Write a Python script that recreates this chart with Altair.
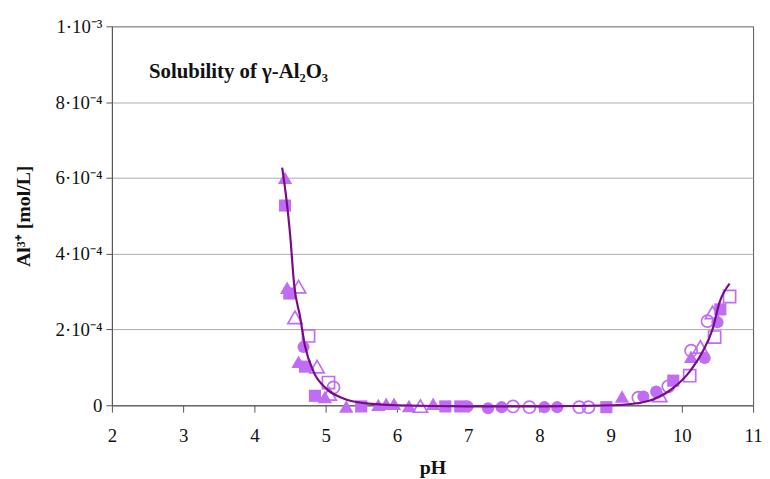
import altair as alt
import pandas as pd

# ---- data ----
ft_ph = [4.43, 4.46, 4.62, 4.99, 5.29, 5.74, 5.85, 5.96, 6.17, 6.51, 9.16, 10.13]
ft_v = [6.0e-4, 3.1e-4, 1.15e-4, 0.22e-4, -0.03e-4, 0.01e-4, 0.04e-4, 0.04e-4, -0.02e-4, 0.04e-4, 0.23e-4, 1.28e-4]

ot_ph = [4.62, 4.57, 4.88, 5.05, 6.33, 9.69, 10.26, 10.43]
ot_v = [3.13e-4, 2.32e-4, 1.02e-4, 0.3e-4, -0.02e-4, 0.26e-4, 1.54e-4, 2.45e-4]

fs_ph = [4.43, 4.49, 4.71, 4.85, 5.50, 6.68, 6.89, 8.94, 9.88, 10.54]
fs_v = [5.27e-4, 2.95e-4, 1.02e-4, 0.25e-4, -0.03e-4, -0.03e-4, -0.03e-4, -0.05e-4, 0.65e-4, 2.53e-4]

os_ph = [4.76, 5.04, 10.11, 10.46, 10.67]
os_v = [1.83e-4, 0.6e-4, 0.78e-4, 1.8e-4, 2.87e-4]

fc_ph = [4.69, 6.99, 7.28, 7.47, 8.07, 8.25, 9.46, 9.64, 10.32, 10.50]
fc_v = [1.54e-4, -0.03e-4, -0.08e-4, -0.05e-4, -0.05e-4, -0.05e-4, 0.23e-4, 0.36e-4, 1.25e-4, 2.19e-4]

oc_ph = [5.11, 7.63, 7.86, 8.56, 8.69, 9.39, 9.81, 10.13, 10.36]
oc_v = [0.47e-4, -0.03e-4, -0.05e-4, -0.05e-4, -0.05e-4, 0.2e-4, 0.5e-4, 1.44e-4, 2.22e-4]

curve_ph = [4.39, 4.45, 4.50, 4.56, 4.64, 4.71, 4.83, 5.01, 5.25, 5.57, 6.0, 7.0, 8.0, 9.04, 9.5, 9.83, 10.11, 10.29, 10.43, 10.53, 10.67]
curve_v = [6.27e-4, 5.43e-4, 4.54e-4, 3.15e-4, 2.35e-4, 1.57e-4, 0.89e-4, 0.44e-4, 0.18e-4, 0.05e-4, 0.0, -0.03e-4, -0.03e-4, 0.0, 0.1e-4, 0.39e-4, 0.89e-4, 1.41e-4, 2.0e-4, 2.72e-4, 3.21e-4]

x_ticks = [2, 3, 4, 5, 6, 7, 8, 9, 10, 11]
y_ticks = [0, 2e-4, 4e-4, 6e-4, 8e-4, 1e-3]

title_text = ["Solubility of γ-Al₂O₃"]
title_ph = [2.52]
title_v = [8.8e-4]

MARK = "#c06cf4"
LINE = "#7a0a8a"
FONT = "Liberation Serif"

def df(ph, v, shape):
    return pd.DataFrame({"pH": ph, "Al": v, "shape": shape})

filled = pd.concat([df(ft_ph, ft_v, "triangle-up"), df(fs_ph, fs_v, "square"), df(fc_ph, fc_v, "circle")])
opened = pd.concat([df(ot_ph, ot_v, "triangle-up"), df(os_ph, os_v, "square"), df(oc_ph, oc_v, "circle")])
curve = pd.DataFrame({"pH": curve_ph, "Al": curve_v})
ann = pd.DataFrame({"pH": title_ph, "Al": title_v, "t": title_text})

xs = alt.Scale(domain=[2, 11], nice=False, zero=False)
ys = alt.Scale(domain=[0, 1e-3], nice=False)

xenc = alt.X("pH:Q", scale=xs, title="pH",
             axis=alt.Axis(values=x_ticks, format="d", grid=False, tickSize=7, labelPadding=15,
                           labelFontSize=19, labelFont=FONT, labelColor="#111",
                           titleFont=FONT, titleFontSize=20, titleFontWeight="bold",
                           titlePadding=12, titleColor="#111",
                           domainColor="#555", tickColor="#555", labelFlush=False))
yenc = alt.Y("Al:Q", scale=ys, title="Al³⁺ [mol/L]",
             axis=alt.Axis(values=y_ticks, grid=True, gridColor="#aaaaaa", tickSize=6,
                           labelPadding=4, labelFontSize=19, labelFont=FONT, labelColor="#111",
                           labelExpr="datum.value < 1e-9 ? '0' : (datum.value > 9e-4 ? '1·10⁻³' : format(datum.value*1e4, '.0f') + '·10⁻⁴')",
                           titleFont=FONT, titleFontSize=20, titleFontWeight="bold",
                           titlePadding=22, titleColor="#111",
                           domainColor="#555", tickColor="#555", labelFlush=False))

shape_scale = alt.Scale(domain=["triangle-up", "square", "circle"], range=["triangle-up", "square", "circle"])
size_rule = alt.condition("datum.shape == 'triangle-up'", alt.value(210), alt.value(150))

pf = alt.Chart(filled).mark_point(filled=True, opacity=1, color=MARK).encode(
    x=xenc, y=yenc, shape=alt.Shape("shape:N", scale=shape_scale, legend=None), size=size_rule)
po = alt.Chart(opened).mark_point(filled=False, opacity=1, color=MARK, strokeWidth=1.7).encode(
    x="pH:Q", y="Al:Q", shape=alt.Shape("shape:N", scale=shape_scale, legend=None), size=size_rule)
ln = alt.Chart(curve).mark_line(color=LINE, strokeWidth=2.2, interpolate="monotone").encode(
    x="pH:Q", y="Al:Q")
tx = alt.Chart(ann).mark_text(align="left", baseline="middle", font=FONT, fontSize=21,
                              fontWeight="bold", color="#111").encode(x="pH:Q", y="Al:Q", text="t:N")

chart = alt.layer(pf, po, ln, tx).properties(
    width=648, height=383,
    autosize=alt.AutoSizeParams(type="none"),
    padding={"left": 105, "top": 16, "right": 9, "bottom": 72},
    background="white",
).configure_view(stroke="#555", strokeWidth=1)

chart.save("out.html", embed_options={"renderer": "svg", "actions": False})
